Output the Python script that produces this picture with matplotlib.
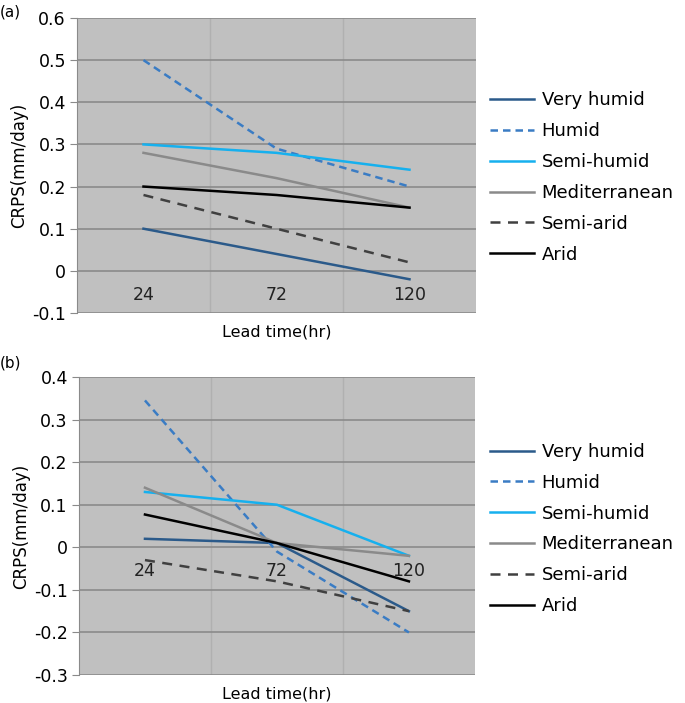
import matplotlib
matplotlib.use('Agg')
import matplotlib.pyplot as plt

plt.rcParams['font.family'] = ['DejaVu Sans']

lead_times = ['24', '72', '120']
regions = ['Very humid', 'Humid', 'Semi-humid', 'Mediterranean', 'Semi-arid', 'Arid']

# panel (a)
crps_a = {
    'Very humid': [0.10, 0.04, -0.02],
    'Humid': [0.50, 0.29, 0.20],
    'Semi-humid': [0.30, 0.28, 0.24],
    'Mediterranean': [0.28, 0.22, 0.15],
    'Semi-arid': [0.18, 0.10, 0.02],
    'Arid': [0.20, 0.18, 0.15],
}
# panel (b)
crps_b = {
    'Very humid': [0.02, 0.01, -0.15],
    'Humid': [0.345, -0.01, -0.20],
    'Semi-humid': [0.13, 0.10, -0.02],
    'Mediterranean': [0.14, 0.01, -0.02],
    'Semi-arid': [-0.03, -0.08, -0.15],
    'Arid': [0.077, 0.01, -0.08],
}

styles = {
    'Very humid': dict(color='#2b5a8a', ls='-', lw=1.8),
    'Humid': dict(color='#3a7cc4', ls=(0, (3, 2)), lw=1.8),
    'Semi-humid': dict(color='#16b0ee', ls='-', lw=1.8),
    'Mediterranean': dict(color='#8a8a8a', ls='-', lw=1.8),
    'Semi-arid': dict(color='#404040', ls=(0, (4, 3)), lw=1.8),
    'Arid': dict(color='#000000', ls='-', lw=1.8),
}


def draw(ax, data, yticks, label_y):
    x = range(len(lead_times))
    for r in regions:
        ax.plot(x, data[r], label=r, **styles[r])
    ax.set_facecolor('#c0c0c0')
    ax.set_xlim(-0.5, 2.5)
    ax.set_ylim(yticks[0], yticks[-1])
    ax.set_yticks(yticks)
    ax.set_yticklabels(['%g' % t for t in yticks], fontsize=12.5)
    ax.set_xticks([])
    ax.set_xticks([0.5, 1.5], minor=True)
    ax.tick_params(axis='x', which='minor', length=0)
    ax.tick_params(axis='y', length=5, color='#8a8a8a', pad=3)
    ax.grid(axis='y', color='#8a8a8a', lw=1.2)
    ax.grid(axis='x', which='minor', color='#b0b0b0', lw=1)
    ax.set_axisbelow(True)
    for s in ['top', 'right', 'bottom']:
        ax.spines[s].set_visible(False)
    ax.spines['left'].set_color('#8a8a8a')
    for i, t in enumerate(lead_times):
        ax.text(i, label_y, t, ha='center', va='center', fontsize=12.5, color='#222222')
    ax.set_xlabel('Lead time(hr)', fontsize=11.5, labelpad=5)
    ax.set_ylabel('CRPS(mm/day)', fontsize=12, labelpad=3)


fig = plt.figure(figsize=(6.85, 7.03), dpi=100)

ax_a = fig.add_axes([0.1124, 0.5548, 0.5825, 0.4196])
draw(ax_a, crps_a, [-0.1, 0, 0.1, 0.2, 0.3, 0.4, 0.5, 0.6], -0.058)
ax_a.legend(loc='upper left', bbox_to_anchor=(0.692, 0.893), bbox_transform=fig.transFigure,
            frameon=False, fontsize=13, handlelength=2.4, labelspacing=0.71, handletextpad=0.45)
fig.text(0.0, 0.983, '(a)', fontsize=11, va='center')

ax_b = fig.add_axes([0.1153, 0.0398, 0.578, 0.4239])
draw(ax_b, crps_b, [-0.3, -0.2, -0.1, 0, 0.1, 0.2, 0.3, 0.4], -0.055)
ax_b.legend(loc='upper left', bbox_to_anchor=(0.692, 0.393), bbox_transform=fig.transFigure,
            frameon=False, fontsize=13, handlelength=2.4, labelspacing=0.71, handletextpad=0.45)
fig.text(0.0, 0.483, '(b)', fontsize=11, va='center')

fig.savefig('out.png', dpi=100)
